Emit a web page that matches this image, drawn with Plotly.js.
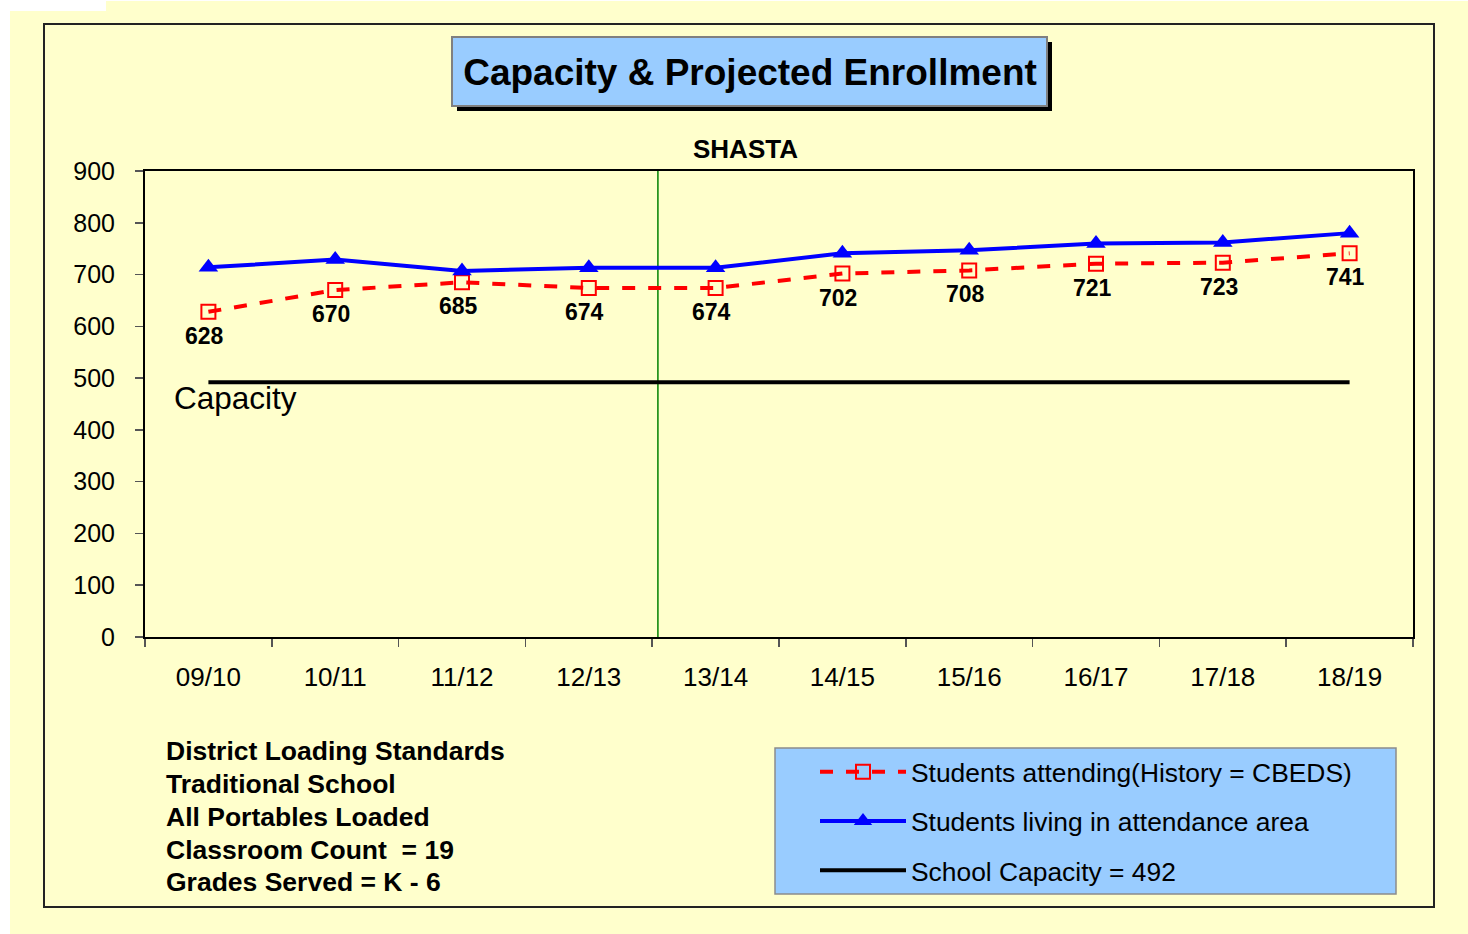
<!DOCTYPE html>
<html>
<head>
<meta charset="utf-8">
<script src="https://cdn.plot.ly/plotly-3.0.1.min.js"></script>
<style>html,body{margin:0;padding:0;background:#ffffff;}#chart{width:1468px;height:934px;}</style>
</head>
<body>
<div id="chart"></div>
<script>
// ---- data ----
var years = ['09/10','10/11','11/12','12/13','13/14','14/15','15/16','16/17','17/18','18/19'];
var attending = [628, 670, 685, 674, 674, 702, 708, 721, 723, 741];
var livingInArea = [714, 729, 707, 713, 713, 741, 747, 760, 762, 780];
var capacity = [492, 492, 492, 492, 492, 492, 492, 492, 492, 492];
var attendingLabels = ['628','670','685','674','674','702','708','721','723','741'];
var seriesNames = ['Students attending(History = CBEDS)', 'Students living in attendance area', 'School Capacity = 492'];
var noteLines = ['District Loading Standards', 'Traditional School', 'All Portables Loaded', 'Classroom Count  = 19', 'Grades Served = K - 6'];
var chartTitle = 'Capacity & Projected Enrollment';
var schoolName = 'SHASTA';

// ---- layout helpers (pixel -> paper) ----
var W = 1468, H = 934;
var L = 145, R = 1413, T = 171, B = 637;
function px(x){ return (x - L) / (R - L); }
function py(y){ return (B - y) / (B - T); }
var FONT = 'Arial, "Liberation Sans", sans-serif';
var YELLOW = '#FFFFCC';

var traces = [
  {
    x: years, y: attending, name: seriesNames[0], type: 'scatter', mode: 'lines+markers',
    line: {color: '#FF0000', width: 4, dash: '13px,13px'},
    marker: {symbol: 'square-open', size: 14, color: '#FF0000', line: {width: 2, color: '#FF0000'}},
    legendgroup: 'a', cliponaxis: false
  },
  {
    x: years, y: livingInArea, name: seriesNames[1], type: 'scatter', mode: 'lines+markers',
    line: {color: '#0000FF', width: 4},
    marker: {symbol: 'triangle-up', size: 17, color: '#0000FF'},
    legendgroup: 'b', cliponaxis: false
  },
  {
    x: years, y: capacity, name: seriesNames[2], type: 'scatter', mode: 'lines',
    line: {color: '#000000', width: 4},
    legendgroup: 'c', cliponaxis: false
  }
];

var shapes = [
  // yellow background
  {type:'rect', xref:'paper', yref:'paper', x0:px(10), x1:px(W), y0:py(11), y1:py(H), fillcolor:YELLOW, line:{width:0}, layer:'below'},
  {type:'rect', xref:'paper', yref:'paper', x0:px(106), x1:px(W), y0:py(1), y1:py(12), fillcolor:YELLOW, line:{width:0}, layer:'below'},
  // outer frame
  {type:'rect', xref:'paper', yref:'paper', x0:px(44), x1:px(1434), y0:py(24), y1:py(907), line:{color:'#222222', width:2}, layer:'below'},
  // title box shadow + box
  {type:'rect', xref:'paper', yref:'paper', x0:px(457), x1:px(1052), y0:py(42), y1:py(111), fillcolor:'#000000', line:{width:0}, layer:'below'},
  {type:'rect', xref:'paper', yref:'paper', x0:px(452), x1:px(1047), y0:py(37), y1:py(106), fillcolor:'#99CCFF', line:{color:'#808080', width:2}, layer:'below'},
  // legend box
  {type:'rect', xref:'paper', yref:'paper', x0:px(775), x1:px(1396), y0:py(748), y1:py(894), fillcolor:'#99CCFF', line:{color:'#8c8c8c', width:1.5}, layer:'below'},
  // green divider between history and projection
  {type:'line', xref:'x', yref:'paper', x0:3.545, x1:3.545, y0:0, y1:1, line:{color:'#008000', width:1.5}, layer:'below'}
];

var annotations = [
  {text: schoolName, xref:'paper', yref:'paper', x:px(745), y:py(149), xanchor:'center', yanchor:'middle', showarrow:false,
   font:{family:FONT, size:26, color:'#000000', weight:'bold'}},
  {text: 'Capacity', xref:'paper', yref:'paper', x:px(172), y:py(398), xanchor:'left', yanchor:'middle', showarrow:false,
   font:{family:FONT, size:31.5, color:'#000000'}}
];
var noteY = [751, 784, 817, 850, 882];
noteLines.forEach(function(t, i){
  annotations.push({text: t, xref:'paper', yref:'paper', x:px(164), y:py(noteY[i]), xanchor:'left', yanchor:'middle', showarrow:false,
    font:{family:FONT, size:26.5, color:'#000000', weight:'bold'}});
});
// data labels for attending series, placed through the axes
years.forEach(function(c, i){
  annotations.push({text: attendingLabels[i], xref:'x', yref:'y', x: c, y: attending[i], xanchor:'center', yanchor:'middle',
    yshift: -24, xshift: -4, showarrow:false, font:{family:FONT, size:23, color:'#000000', weight:'bold'}});
});

var layout = {
  width: W, height: H,
  margin: {l: L, r: W - R, t: T, b: H - B, pad: 0},
  paper_bgcolor: '#FFFFFF',
  plot_bgcolor: 'rgba(0,0,0,0)',
  font: {family: FONT, color: '#000000'},
  title: {text: chartTitle, font: {family: FONT, size: 37, color: '#000000', weight: 'bold'},
          xref: 'paper', x: px(750), xanchor: 'center', yref: 'container', y: 1 - 72/H, yanchor: 'middle'},
  xaxis: {type: 'category', tickson: 'boundaries', ticks: 'outside', ticklen: 8, tickwidth: 1.5, tickcolor: '#555555',
          showline: true, linecolor: '#000000', linewidth: 2, mirror: true, showgrid: false, zeroline: false,
          tickfont: {family: FONT, size: 26, color: '#000000'}, ticklabelstandoff: 16, range: [-0.5, 9.5], fixedrange: true},
  yaxis: {range: [0, 900], dtick: 100, ticks: 'outside', ticklen: 8, tickwidth: 1.5, tickcolor: '#555555',
          showline: true, linecolor: '#000000', linewidth: 2, mirror: true, showgrid: false, zeroline: false,
          tickfont: {family: FONT, size: 25, color: '#000000'}, ticklabelstandoff: 15, fixedrange: true},
  showlegend: true,
  legend: {x: px(815), y: py(748), xanchor: 'left', yanchor: 'top', bgcolor: 'rgba(0,0,0,0)', borderwidth: 0,
           traceorder: 'grouped', tracegroupgap: 12, itemwidth: 86,
           font: {family: FONT, size: 26.4, color: '#000000'}},
  shapes: shapes,
  annotations: annotations
};

Plotly.newPlot('chart', traces, layout, {displayModeBar: false, staticPlot: true});
</script>
</body>
</html>
